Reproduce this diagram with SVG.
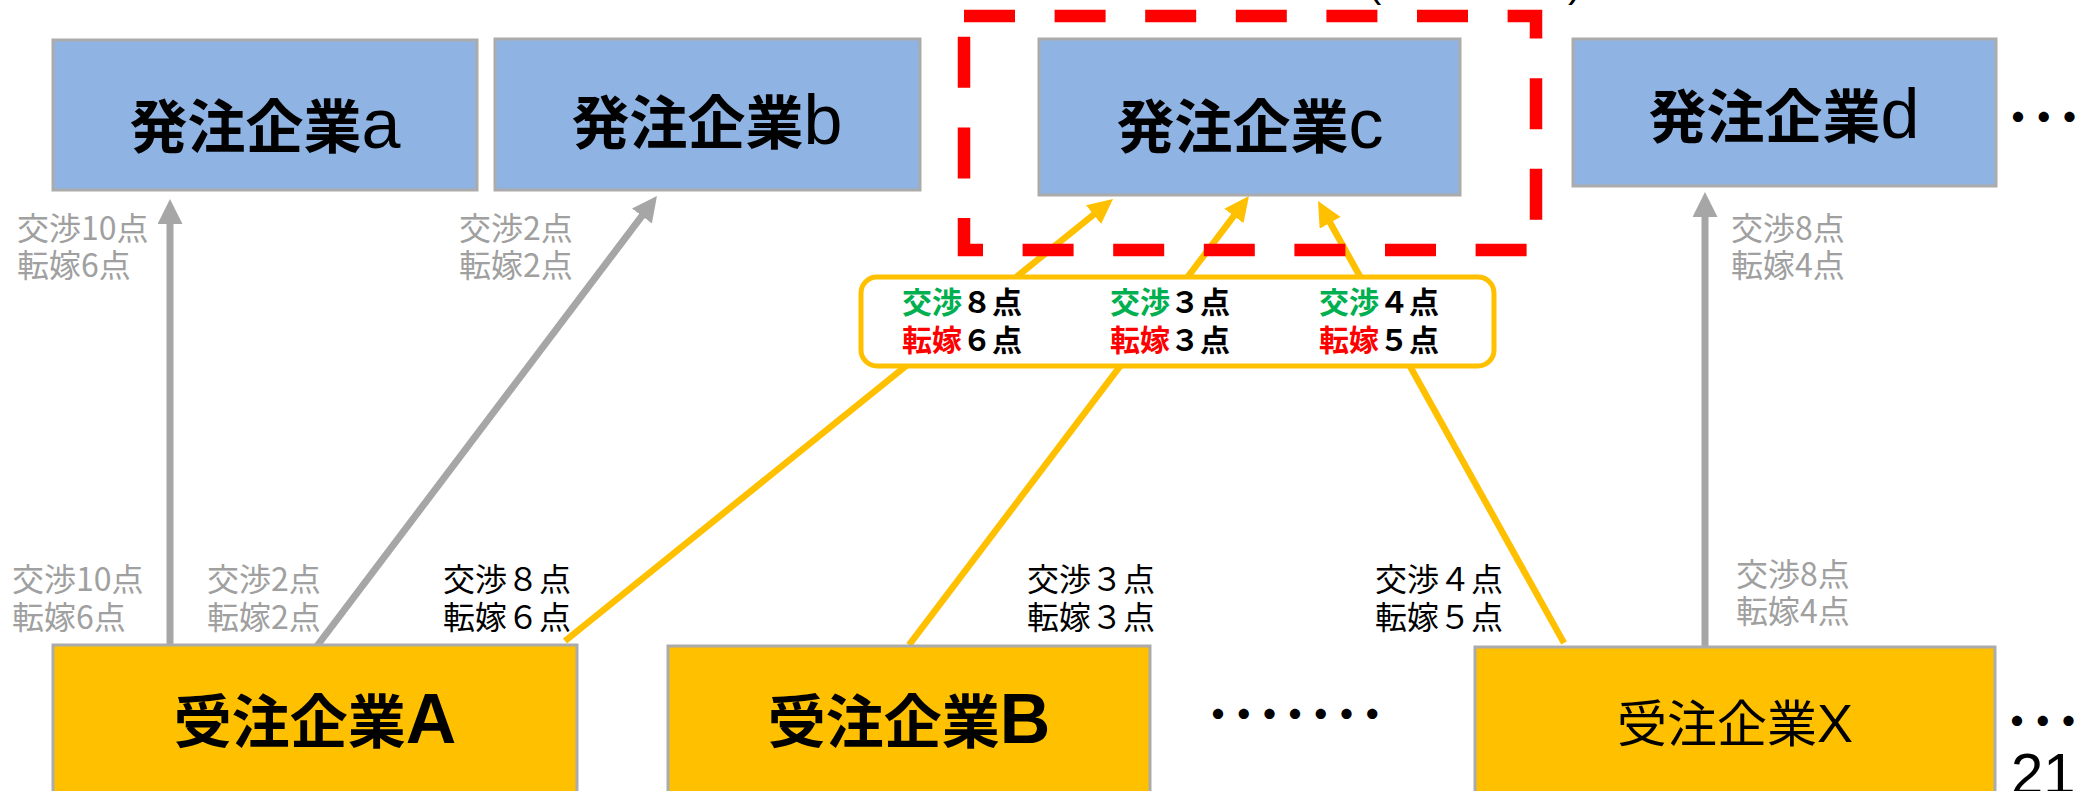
<svg xmlns="http://www.w3.org/2000/svg" width="2076" height="791" viewBox="0 0 2076 791">
<style>
.bbox{fill:#8FB4E3;stroke:#ABABAB;stroke-width:3}
.obox{fill:#FFC000;stroke:#ABABAB;stroke-width:3}
.jp{font-family:"Noto Sans CJK JP","Noto Sans",sans-serif}
.title{font-size:58px;font-weight:bold;fill:#000}
.lat{font-family:"Liberation Sans","Noto Sans",sans-serif;font-weight:normal;font-size:70px}
.latb{font-family:"Liberation Sans","Noto Sans",sans-serif;font-weight:bold;font-size:70px}
.glab{font-size:32px;fill:#A0A0A0}
.klab{font-size:32px;fill:#000}
.inlab{font-size:30px;font-weight:bold;fill:#000}
.grn{fill:#00B050}
.red{fill:#FF0000}
.gline{stroke:#A6A6A6;stroke-width:7;fill:none}
.oline{stroke:#FFC000;stroke-width:6.5;fill:none}
.dots{font-size:40px;font-weight:bold;fill:#000;letter-spacing:-14.3px}
</style>
<defs>
<marker id="ahG" markerUnits="userSpaceOnUse" markerWidth="26" markerHeight="26" refX="3" refY="12.5" orient="auto"><path d="M0,0 L25,12.5 L0,25 z" fill="#A6A6A6"/></marker>
<marker id="ahO" markerUnits="userSpaceOnUse" markerWidth="26" markerHeight="26" refX="3" refY="12" orient="auto"><path d="M0,0 L25,12 L0,24 z" fill="#FFC000"/></marker>
</defs>
<rect width="2076" height="791" fill="#fff"/>

<g id="connectors">
<line class="gline" x1="170" y1="645" x2="170" y2="221" marker-end="url(#ahG)"/>
<line class="gline" x1="317" y1="646" x2="643.7" y2="213.6" marker-end="url(#ahG)"/>
<line class="gline" x1="1705" y1="646" x2="1705" y2="214" marker-end="url(#ahG)"/>
<line class="oline" x1="565" y1="641" x2="1095.9" y2="212.8" marker-end="url(#ahO)"/>
<line class="oline" x1="909" y1="645" x2="1235.7" y2="213.5" marker-end="url(#ahO)"/>
<line class="oline" x1="1564" y1="643" x2="1328.7" y2="220.2" marker-end="url(#ahO)"/>
</g>

<g id="node-a"><rect class="bbox" x="53" y="40" width="424" height="150"/>
<text class="jp title" x="265" y="148" text-anchor="middle">発注企業<tspan class="lat">a</tspan></text></g>
<g id="node-b"><rect class="bbox" x="495" y="39" width="425" height="151"/>
<text class="jp title" x="707" y="144" text-anchor="middle">発注企業<tspan class="lat">b</tspan></text></g>
<g id="node-c"><rect class="bbox" x="1039" y="39" width="421" height="156"/>
<text class="jp title" x="1250" y="148" text-anchor="middle">発注企業<tspan class="lat">c</tspan></text></g>
<g id="node-d"><rect class="bbox" x="1573" y="39" width="423" height="147"/>
<text class="jp title" x="1784" y="138" text-anchor="middle">発注企業<tspan class="lat">d</tspan></text></g>

<g id="highlight"><rect x="964" y="16" width="572" height="234" fill="none" stroke="#FF0000" stroke-width="12.5" stroke-dasharray="51 39.6"/></g>

<g id="node-A"><rect class="obox" x="53" y="645" width="524" height="160"/>
<text class="jp title" x="315" y="743" text-anchor="middle">受注企業<tspan class="latb">A</tspan></text></g>
<g id="node-B"><rect class="obox" x="668" y="646" width="482" height="160"/>
<text class="jp title" x="909" y="743" text-anchor="middle">受注企業<tspan class="latb">B</tspan></text></g>
<g id="node-X"><rect class="obox" x="1475" y="647" width="520" height="160"/>
<text class="jp" x="1735" y="742" text-anchor="middle" font-size="50" fill="#000">受注企業<tspan class="lat" style="font-size:54px">X</tspan></text></g>

<g id="label-box"><rect x="861" y="277" width="633" height="89" rx="16" ry="16" fill="#fff" stroke="#FFC000" stroke-width="5"/>
<text class="jp inlab" x="902" y="313"><tspan class="grn">交渉</tspan>８点<tspan x="902" dy="38" class="red">転嫁</tspan>６点</text>
<text class="jp inlab" x="1110" y="313"><tspan class="grn">交渉</tspan>３点<tspan x="1110" dy="38" class="red">転嫁</tspan>３点</text>
<text class="jp inlab" x="1319" y="313"><tspan class="grn">交渉</tspan>４点<tspan x="1319" dy="38" class="red">転嫁</tspan>５点</text>
</g>

<g id="labels">
<text class="jp glab" x="17" y="240">交渉10点<tspan x="17" dy="37">転嫁6点</tspan></text>
<text class="jp glab" x="459" y="240">交渉2点<tspan x="459" dy="37">転嫁2点</tspan></text>
<text class="jp glab" x="1731" y="240">交渉8点<tspan x="1731" dy="37">転嫁4点</tspan></text>
<text class="jp glab" x="12" y="591">交渉10点<tspan x="12" dy="38">転嫁6点</tspan></text>
<text class="jp glab" x="207" y="591">交渉2点<tspan x="207" dy="38">転嫁2点</tspan></text>
<text class="jp glab" x="1736" y="586">交渉8点<tspan x="1736" dy="37">転嫁4点</tspan></text>
<text class="jp klab" x="443" y="591">交渉８点<tspan x="443" dy="38">転嫁６点</tspan></text>
<text class="jp klab" x="1027" y="591">交渉３点<tspan x="1027" dy="38">転嫁３点</tspan></text>
<text class="jp klab" x="1375" y="591">交渉４点<tspan x="1375" dy="38">転嫁５点</tspan></text>
</g>

<g id="misc">
<text class="jp dots" x="1198" y="729">・・・・・・・</text>
<text class="jp dots" x="1998" y="132">・・・</text>
<text class="jp dots" x="1997" y="736">・・・</text>
<text x="2011" y="794" font-family="Liberation Sans, sans-serif" font-size="58" fill="#000">21</text>
<text x="1368" y="-3" font-family="Liberation Sans, sans-serif" font-size="40" fill="#000">(</text>
<text x="1568" y="-3" font-family="Liberation Sans, sans-serif" font-size="40" fill="#000">)</text>
</g>
</svg>
